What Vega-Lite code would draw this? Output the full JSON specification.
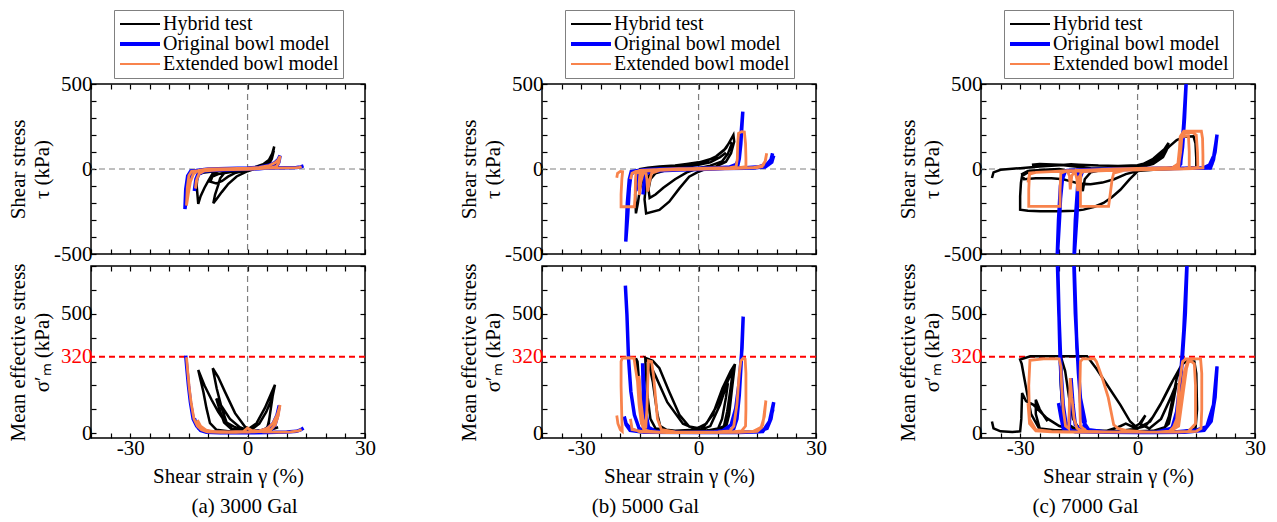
{
"$schema": "https://vega.github.io/schema/vega-lite/v6.json",
"background": "white",
"padding": {"left": 6, "top": 8, "right": 5, "bottom": 5},
"datasets": {
"a_h_t": [{"x":0,"y":0},{"x":-3,"y":-5},{"x":-6,"y":-10},{"x":-9,"y":-15},{"x":-11.5,"y":-22},{"x":-12.8,"y":-35},{"x":-13,"y":-100},{"x":-12.6,"y":-205},{"x":-12,"y":-160},{"x":-11,"y":-110},{"x":-10,"y":-68},{"x":-9,"y":-30},{"x":-7,"y":-10},{"x":-4,"y":0},{"x":0,"y":5},{"x":2,"y":12},{"x":4,"y":28},{"x":5.5,"y":55},{"x":6.3,"y":90},{"x":6.8,"y":132},{"x":6.5,"y":95},{"x":6,"y":60},{"x":5.2,"y":32},{"x":4,"y":14},{"x":2,"y":3},{"x":0,"y":-13},{"x":-2.8,"y":-44},{"x":-4.9,"y":-87},{"x":-6.6,"y":-136},{"x":-8,"y":-180},{"x":-8.75,"y":-201},{"x":-8.3,"y":-150},{"x":-7.5,"y":-95},{"x":-7,"y":-55},{"x":-6,"y":-25},{"x":-4,"y":-8},{"x":-1,"y":2},{"x":2,"y":8},{"x":4,"y":22},{"x":5.5,"y":48},{"x":6.5,"y":95},{"x":6.7,"y":108},{"x":6.2,"y":60},{"x":5.5,"y":32},{"x":4.5,"y":15},{"x":2.5,"y":4},{"x":0,"y":-6},{"x":-3,"y":-22},{"x":-5,"y":-45},{"x":-6.5,"y":-70},{"x":-8,"y":-85},{"x":-9.5,"y":-75},{"x":-9,"y":-45},{"x":-7.5,"y":-30},{"x":-5,"y":-20},{"x":-2,"y":-8},{"x":0,"y":-2},{"x":3,"y":6},{"x":5,"y":12},{"x":7,"y":22},{"x":7.8,"y":28}],
"a_o_t": [{"x":0,"y":0},{"x":-4,"y":-3},{"x":-8,"y":-6},{"x":-12,"y":-8},{"x":-14.5,"y":-12},{"x":-15.3,"y":-40},{"x":-15.8,"y":-120},{"x":-16,"y":-235},{"x":-15.5,"y":-150},{"x":-15,"y":-80},{"x":-14.3,"y":-30},{"x":-13,"y":-8},{"x":-10,"y":0},{"x":-5,"y":3},{"x":0,"y":6},{"x":3,"y":10},{"x":5.5,"y":22},{"x":7,"y":38},{"x":7.8,"y":55},{"x":8.3,"y":79},{"x":8,"y":40},{"x":7.5,"y":18},{"x":6,"y":8},{"x":3,"y":2},{"x":0,"y":-2},{"x":-4,"y":-5},{"x":-8,"y":-8},{"x":-11,"y":-12},{"x":-12.5,"y":-30},{"x":-13.3,"y":-80},{"x":-13.6,"y":-130},{"x":-13.2,"y":-60},{"x":-12.5,"y":-20},{"x":-11,"y":-5},{"x":-6,"y":0},{"x":0,"y":3},{"x":5,"y":6},{"x":10,"y":8},{"x":12.5,"y":9},{"x":13.5,"y":12},{"x":14.3,"y":18}],
"a_e_t": [{"x":0,"y":0},{"x":-4,"y":-3},{"x":-8,"y":-5},{"x":-12,"y":-8},{"x":-14.3,"y":-13},{"x":-15,"y":-40},{"x":-15.4,"y":-110},{"x":-15.6,"y":-215},{"x":-15.1,"y":-140},{"x":-14.6,"y":-75},{"x":-13.8,"y":-28},{"x":-12.5,"y":-8},{"x":-10,"y":0},{"x":-5,"y":2},{"x":0,"y":5},{"x":3,"y":9},{"x":5.5,"y":20},{"x":7,"y":36},{"x":7.8,"y":52},{"x":8.3,"y":76},{"x":8,"y":38},{"x":7.4,"y":16},{"x":6,"y":7},{"x":3,"y":2},{"x":0,"y":-2},{"x":-4,"y":-4},{"x":-8,"y":-7},{"x":-11,"y":-11},{"x":-12.4,"y":-28},{"x":-13.1,"y":-70},{"x":-13.3,"y":-115},{"x":-12.9,"y":-55},{"x":-12.2,"y":-18},{"x":-10.5,"y":-5},{"x":-6,"y":0},{"x":0,"y":2},{"x":5,"y":5},{"x":10,"y":7},{"x":12.5,"y":8},{"x":13.3,"y":10},{"x":13.8,"y":14}],
"a_h_m": [{"x":0,"y":20},{"x":-1.5,"y":14},{"x":-3.5,"y":28},{"x":-5.8,"y":49},{"x":-7.5,"y":90},{"x":-9.2,"y":140},{"x":-11,"y":200},{"x":-12.6,"y":265},{"x":-11.3,"y":174},{"x":-10.5,"y":105},{"x":-9.6,"y":42},{"x":-8,"y":15},{"x":-5,"y":8},{"x":-2,"y":8},{"x":0.2,"y":18},{"x":2.3,"y":42},{"x":4.4,"y":105},{"x":6,"y":165},{"x":7,"y":203},{"x":6.3,"y":146},{"x":5.7,"y":77},{"x":5.3,"y":28},{"x":4,"y":12},{"x":1,"y":10},{"x":-0.7,"y":28},{"x":-3.2,"y":84},{"x":-5.8,"y":174},{"x":-7.5,"y":235},{"x":-8.9,"y":272},{"x":-7.9,"y":188},{"x":-6.6,"y":105},{"x":-5.3,"y":42},{"x":-4,"y":18},{"x":-1,"y":10},{"x":1,"y":15},{"x":3,"y":40},{"x":4.8,"y":90},{"x":5.8,"y":130},{"x":6.5,"y":165},{"x":6,"y":110},{"x":5.5,"y":55},{"x":5,"y":20},{"x":3,"y":10},{"x":0,"y":12},{"x":-2,"y":25},{"x":-4.5,"y":60},{"x":-6.5,"y":110},{"x":-8,"y":145},{"x":-7,"y":90},{"x":-6,"y":45},{"x":-4,"y":15},{"x":0,"y":8},{"x":3,"y":10},{"x":6,"y":15},{"x":7.8,"y":25}],
"a_o_m": [{"x":-15.8,"y":325},{"x":-15.5,"y":270},{"x":-15.1,"y":200},{"x":-14.6,"y":130},{"x":-13.9,"y":60},{"x":-13,"y":30},{"x":-12,"y":12},{"x":-10.5,"y":4},{"x":-7,"y":2},{"x":-3,"y":2},{"x":0,"y":4},{"x":3,"y":8},{"x":5,"y":18},{"x":6.5,"y":40},{"x":7.5,"y":75},{"x":8.1,"y":116},{"x":7.6,"y":70},{"x":7,"y":35},{"x":6,"y":15},{"x":4,"y":6},{"x":0,"y":3},{"x":-4,"y":3},{"x":-8,"y":4},{"x":-11,"y":8},{"x":-12.5,"y":20},{"x":-13.3,"y":45},{"x":-13.6,"y":62},{"x":-13,"y":35},{"x":-12,"y":15},{"x":-10,"y":5},{"x":-5,"y":2},{"x":0,"y":2},{"x":5,"y":3},{"x":10,"y":5},{"x":12.5,"y":8},{"x":13.5,"y":14},{"x":14.3,"y":22}],
"a_e_m": [{"x":-15.6,"y":318},{"x":-15.3,"y":260},{"x":-14.9,"y":190},{"x":-14.4,"y":125},{"x":-13.7,"y":60},{"x":-12.8,"y":30},{"x":-11.8,"y":14},{"x":-10.3,"y":6},{"x":-7,"y":4},{"x":-3,"y":4},{"x":0,"y":6},{"x":3,"y":10},{"x":5,"y":20},{"x":6.5,"y":42},{"x":7.6,"y":78},{"x":8.3,"y":118},{"x":7.8,"y":72},{"x":7.1,"y":36},{"x":6,"y":16},{"x":4,"y":8},{"x":0,"y":5},{"x":-4,"y":5},{"x":-8,"y":6},{"x":-10.5,"y":12},{"x":-12,"y":30},{"x":-12.8,"y":55},{"x":-12.2,"y":30},{"x":-11,"y":14},{"x":-9,"y":8},{"x":-5,"y":6},{"x":-1,"y":8},{"x":0,"y":22},{"x":1,"y":12},{"x":4,"y":6},{"x":8,"y":5},{"x":11,"y":6},{"x":13,"y":10},{"x":13.8,"y":16}],
"b_h_t": [{"x":0,"y":40},{"x":-3,"y":30},{"x":-6,"y":20},{"x":-10,"y":14},{"x":-13,"y":8},{"x":-15,"y":0},{"x":-15.8,"y":-40},{"x":-16.2,"y":-150},{"x":-16,"y":-261},{"x":-15.5,"y":-200},{"x":-15,"y":-120},{"x":-14.3,"y":-60},{"x":-13.5,"y":-20},{"x":-11,"y":-2},{"x":-8,"y":8},{"x":-4,"y":22},{"x":0,"y":38},{"x":2.5,"y":52},{"x":4.5,"y":75},{"x":7,"y":122},{"x":8.9,"y":200},{"x":9.1,"y":161},{"x":8.3,"y":92},{"x":7,"y":43},{"x":4.4,"y":14},{"x":2,"y":2},{"x":0,"y":-16},{"x":-2.4,"y":-45},{"x":-4.9,"y":-114},{"x":-7.5,"y":-192},{"x":-10,"y":-241},{"x":-13.4,"y":-261},{"x":-13.8,"y":-180},{"x":-13.5,"y":-100},{"x":-13,"y":-50},{"x":-12,"y":-20},{"x":-9,"y":0},{"x":-5,"y":15},{"x":-2,"y":25},{"x":1,"y":45},{"x":4,"y":65},{"x":6.5,"y":110},{"x":8,"y":160},{"x":8.5,"y":150},{"x":7.5,"y":90},{"x":6,"y":45},{"x":3,"y":20},{"x":0,"y":5},{"x":-3,"y":-20},{"x":-6,"y":-60},{"x":-9,"y":-110},{"x":-11,"y":-150},{"x":-12.5,"y":-170},{"x":-12.8,"y":-120},{"x":-12.3,"y":-60},{"x":-11,"y":-25},{"x":-8,"y":-5},{"x":-4,"y":10},{"x":0,"y":25},{"x":3,"y":40},{"x":5.5,"y":70},{"x":7,"y":95}],
"b_o_t": [{"x":0,"y":0},{"x":-5,"y":-3},{"x":-10,"y":-5},{"x":-15,"y":-8},{"x":-17.2,"y":-15},{"x":-17.7,"y":-60},{"x":-18.2,"y":-200},{"x":-18.6,"y":-427},{"x":-18.1,"y":-271},{"x":-17.7,"y":-114},{"x":-17.3,"y":-35},{"x":-16.4,"y":-12},{"x":-14,"y":-5},{"x":-10,"y":0},{"x":-5,"y":2},{"x":0,"y":4},{"x":5,"y":8},{"x":8,"y":12},{"x":9.5,"y":25},{"x":10.1,"y":50},{"x":10.5,"y":110},{"x":10.9,"y":220},{"x":11.3,"y":337},{"x":10.8,"y":150},{"x":10.4,"y":60},{"x":10,"y":20},{"x":8,"y":5},{"x":4,"y":0},{"x":0,"y":-3},{"x":-5,"y":-6},{"x":-10,"y":-10},{"x":-13,"y":-15},{"x":-13.8,"y":-60},{"x":-14.2,"y":-150},{"x":-13.9,"y":-80},{"x":-13.4,"y":-30},{"x":-12,"y":-10},{"x":-8,"y":0},{"x":-3,"y":3},{"x":2,"y":5},{"x":8,"y":6},{"x":12,"y":7},{"x":15.5,"y":14},{"x":17.5,"y":28},{"x":18.5,"y":55},{"x":18.9,"y":92},{"x":18.5,"y":50},{"x":17.8,"y":25},{"x":16,"y":10},{"x":12,"y":5},{"x":6,"y":3},{"x":0,"y":0},{"x":-6,"y":-4},{"x":-12,"y":-7},{"x":-15,"y":-10},{"x":-15.8,"y":-50},{"x":-16,"y":-130},{"x":-15.6,"y":-60},{"x":-15,"y":-20},{"x":-13,"y":-6},{"x":-8,"y":0},{"x":0,"y":2},{"x":8,"y":4},{"x":14,"y":6},{"x":17,"y":12},{"x":18.7,"y":40},{"x":19.2,"y":80}],
"b_e_t": [{"x":-20.9,"y":-51},{"x":-20.7,"y":-25},{"x":-20,"y":-14},{"x":-19.4,"y":-16},{"x":-19.6,"y":-60},{"x":-19.8,"y":-150},{"x":-19.8,"y":-222},{"x":-18,"y":-222},{"x":-16.4,"y":-222},{"x":-16.2,"y":-150},{"x":-16.1,"y":-60},{"x":-16,"y":-25},{"x":-14,"y":-10},{"x":-10,"y":-2},{"x":-5,"y":2},{"x":0,"y":4},{"x":5,"y":6},{"x":8,"y":8},{"x":9.6,"y":14},{"x":9.9,"y":60},{"x":10,"y":150},{"x":10.2,"y":210},{"x":11,"y":220},{"x":11.7,"y":218},{"x":12,"y":150},{"x":12.1,"y":60},{"x":12.1,"y":14},{"x":10,"y":6},{"x":6,"y":2},{"x":0,"y":-1},{"x":-5,"y":-4},{"x":-10,"y":-8},{"x":-14,"y":-12},{"x":-15,"y":-30},{"x":-15.2,"y":-90},{"x":-15.1,"y":-153},{"x":-14.8,"y":-80},{"x":-14.2,"y":-30},{"x":-13.5,"y":-15},{"x":-13.2,"y":-60},{"x":-13,"y":-133},{"x":-12.5,"y":-70},{"x":-12,"y":-25},{"x":-10,"y":-8},{"x":-6,"y":0},{"x":0,"y":3},{"x":6,"y":5},{"x":12,"y":7},{"x":15,"y":10},{"x":16.5,"y":22},{"x":17.1,"y":50},{"x":17.4,"y":92},{"x":17,"y":45},{"x":16.2,"y":18},{"x":14,"y":8},{"x":9,"y":3},{"x":3,"y":0},{"x":-4,"y":-3},{"x":-10,"y":-6},{"x":-14.5,"y":-10},{"x":-16,"y":-14},{"x":-17,"y":-25},{"x":-17.4,"y":-60},{"x":-17,"y":-25},{"x":-15,"y":-8},{"x":-10,"y":-2},{"x":0,"y":2},{"x":10,"y":5},{"x":15,"y":8},{"x":16.5,"y":15}],
"b_h_m": [{"x":0,"y":21},{"x":-2.4,"y":28},{"x":-4.9,"y":77},{"x":-7.5,"y":174},{"x":-10,"y":272},{"x":-11.7,"y":303},{"x":-13.4,"y":314},{"x":-12.8,"y":300},{"x":-11.7,"y":216},{"x":-10.5,"y":77},{"x":-9.8,"y":30},{"x":-8,"y":12},{"x":-4,"y":8},{"x":0,"y":10},{"x":1,"y":21},{"x":3.6,"y":77},{"x":6.1,"y":188},{"x":8.2,"y":260},{"x":9.3,"y":289},{"x":9,"y":250},{"x":8.5,"y":180},{"x":7.8,"y":77},{"x":7,"y":25},{"x":5,"y":10},{"x":0,"y":8},{"x":-5,"y":8},{"x":-10,"y":10},{"x":-13,"y":20},{"x":-14.5,"y":80},{"x":-15.3,"y":200},{"x":-15.8,"y":290},{"x":-16,"y":314},{"x":-15.6,"y":300},{"x":-15.2,"y":216},{"x":-14.6,"y":100},{"x":-14.2,"y":40},{"x":-13.5,"y":15},{"x":-10,"y":10},{"x":0,"y":10},{"x":3,"y":30},{"x":5.5,"y":120},{"x":7.5,"y":220},{"x":8.8,"y":270},{"x":8.2,"y":190},{"x":7.3,"y":90},{"x":6.5,"y":30},{"x":4,"y":10},{"x":0,"y":12},{"x":-4,"y":40},{"x":-8,"y":130},{"x":-11,"y":240},{"x":-12.8,"y":300},{"x":-13.6,"y":310},{"x":-13.5,"y":250},{"x":-13,"y":150},{"x":-12.3,"y":60},{"x":-11,"y":20},{"x":-6,"y":10},{"x":-1,"y":15},{"x":2,"y":40},{"x":4.5,"y":110},{"x":6.5,"y":180},{"x":7.5,"y":210},{"x":7,"y":150},{"x":6,"y":60},{"x":5,"y":20},{"x":2,"y":10},{"x":0,"y":18}],
"b_o_m": [{"x":-18.7,"y":618},{"x":-18.3,"y":496},{"x":-17.9,"y":314},{"x":-17.3,"y":175},{"x":-16.4,"y":77},{"x":-15.2,"y":21},{"x":-13.5,"y":7},{"x":-10,"y":3},{"x":-5,"y":3},{"x":0,"y":4},{"x":4,"y":6},{"x":6.1,"y":10},{"x":8.3,"y":35},{"x":9.5,"y":105},{"x":10.4,"y":216},{"x":11.1,"y":356},{"x":11.4,"y":488},{"x":10.9,"y":300},{"x":10.4,"y":160},{"x":9.8,"y":60},{"x":9,"y":20},{"x":7,"y":6},{"x":3,"y":3},{"x":-2,"y":3},{"x":-7,"y":4},{"x":-11,"y":6},{"x":-13,"y":15},{"x":-13.8,"y":60},{"x":-14.1,"y":150},{"x":-14.3,"y":293},{"x":-13.9,"y":180},{"x":-13.4,"y":80},{"x":-12.8,"y":25},{"x":-11,"y":8},{"x":-5,"y":3},{"x":0,"y":3},{"x":6,"y":3},{"x":12,"y":4},{"x":16.4,"y":7},{"x":18.1,"y":49},{"x":19.2,"y":130},{"x":18.5,"y":60},{"x":17.5,"y":20},{"x":15,"y":6},{"x":8,"y":3},{"x":0,"y":3},{"x":-8,"y":4},{"x":-14,"y":6},{"x":-17,"y":12},{"x":-18.5,"y":40},{"x":-19,"y":70},{"x":-18.5,"y":35},{"x":-17.5,"y":12},{"x":-14,"y":4},{"x":0,"y":3},{"x":10,"y":3},{"x":16,"y":6},{"x":18,"y":40},{"x":19,"y":100}],
"b_e_m": [{"x":-20.9,"y":74},{"x":-20.6,"y":40},{"x":-20,"y":15},{"x":-19.5,"y":8},{"x":-19.6,"y":60},{"x":-19.8,"y":200},{"x":-19.8,"y":300},{"x":-19.5,"y":314},{"x":-18,"y":316},{"x":-16.5,"y":314},{"x":-16.2,"y":280},{"x":-15.6,"y":216},{"x":-15.2,"y":120},{"x":-14.7,"y":49},{"x":-14,"y":15},{"x":-12,"y":6},{"x":-8,"y":4},{"x":-3,"y":4},{"x":0,"y":5},{"x":5,"y":6},{"x":8,"y":10},{"x":9,"y":30},{"x":9.8,"y":120},{"x":10.4,"y":250},{"x":10.8,"y":303},{"x":11.4,"y":314},{"x":11.9,"y":310},{"x":12.1,"y":250},{"x":12.1,"y":100},{"x":12,"y":30},{"x":11,"y":10},{"x":8,"y":5},{"x":2,"y":4},{"x":-4,"y":4},{"x":-10,"y":5},{"x":-13.5,"y":10},{"x":-14.6,"y":40},{"x":-15,"y":150},{"x":-15.2,"y":240},{"x":-14.8,"y":140},{"x":-14.2,"y":60},{"x":-13.5,"y":20},{"x":-13.2,"y":100},{"x":-12.8,"y":303},{"x":-12,"y":300},{"x":-11.5,"y":240},{"x":-11,"y":150},{"x":-10.5,"y":60},{"x":-9.5,"y":15},{"x":-6,"y":6},{"x":0,"y":4},{"x":6,"y":4},{"x":12,"y":6},{"x":15,"y":10},{"x":16.4,"y":35},{"x":17.2,"y":137},{"x":16.8,"y":70},{"x":16,"y":25},{"x":14,"y":8},{"x":8,"y":4},{"x":0,"y":3},{"x":-8,"y":4},{"x":-14,"y":6},{"x":-17,"y":15},{"x":-17.4,"y":60},{"x":-17,"y":20},{"x":-15,"y":6},{"x":-8,"y":3},{"x":0,"y":3},{"x":10,"y":4},{"x":15,"y":8},{"x":16.5,"y":30}],
"c_h_t": [{"x":-37.2,"y":-53},{"x":-36.8,"y":-20},{"x":-35,"y":-5},{"x":-30,"y":5},{"x":-25,"y":15},{"x":-20,"y":22},{"x":-17,"y":28},{"x":-15,"y":25},{"x":-10,"y":20},{"x":-5,"y":18},{"x":0,"y":22},{"x":3,"y":40},{"x":5.5,"y":70},{"x":7.9,"y":153},{"x":7.4,"y":110},{"x":6.5,"y":70},{"x":4,"y":30},{"x":0,"y":5},{"x":-5,"y":-5},{"x":-10,"y":-8},{"x":-15,"y":-10},{"x":-20,"y":-12},{"x":-25,"y":-15},{"x":-28,"y":-20},{"x":-29.5,"y":-40},{"x":-29.8,"y":-82},{"x":-30,"y":-160},{"x":-30,"y":-239},{"x":-28,"y":-245},{"x":-24.9,"y":-249},{"x":-20,"y":-249},{"x":-16,"y":-245},{"x":-13.8,"y":-239},{"x":-11,"y":-222},{"x":-8.7,"y":-200},{"x":-6.5,"y":-165},{"x":-4.4,"y":-122},{"x":-2,"y":-60},{"x":0,"y":-14},{"x":2,"y":15},{"x":4,"y":40},{"x":6,"y":80},{"x":8,"y":130},{"x":10,"y":170},{"x":12,"y":190},{"x":14.3,"y":192},{"x":14.8,"y":150},{"x":15,"y":60},{"x":15,"y":10},{"x":12,"y":5},{"x":8,"y":0},{"x":4,"y":-5},{"x":0,"y":-12},{"x":-3,"y":-30},{"x":-6,"y":-60},{"x":-9,"y":-80},{"x":-12,"y":-90},{"x":-15,"y":-85},{"x":-17.5,"y":-70},{"x":-19,"y":-60},{"x":-22,"y":-55},{"x":-26,"y":-55},{"x":-29,"y":-60},{"x":-29.5,"y":-30},{"x":-28,"y":-12},{"x":-24,"y":-5},{"x":-20,"y":0},{"x":-16,"y":-20},{"x":-14.5,"y":-80},{"x":-14,"y":-130},{"x":-13.5,"y":-60},{"x":-12,"y":-20},{"x":-8,"y":0},{"x":-3,"y":10},{"x":1,"y":25},{"x":4,"y":60},{"x":6,"y":100},{"x":7,"y":120},{"x":6,"y":70},{"x":4,"y":35},{"x":0,"y":10},{"x":-5,"y":0},{"x":-12,"y":5},{"x":-20,"y":25},{"x":-25,"y":30},{"x":-27,"y":25}],
"c_o_t": [{"x":0,"y":0},{"x":-5,"y":-4},{"x":-10,"y":-7},{"x":-15,"y":-10},{"x":-18,"y":-12},{"x":-19,"y":-20},{"x":-19.5,"y":-82},{"x":-19.9,"y":-278},{"x":-20.6,"y":-560},{"x":-20.2,"y":-300},{"x":-19.7,"y":-100},{"x":-19.2,"y":-25},{"x":-18,"y":-8},{"x":-14,"y":-5},{"x":-10,"y":-2},{"x":-5,"y":0},{"x":0,"y":2},{"x":5,"y":4},{"x":9,"y":6},{"x":10.5,"y":20},{"x":11.3,"y":114},{"x":11.8,"y":270},{"x":12.4,"y":506},{"x":12.6,"y":600},{"x":12,"y":300},{"x":11.5,"y":130},{"x":11,"y":40},{"x":10,"y":10},{"x":6,"y":2},{"x":0,"y":-2},{"x":-6,"y":-5},{"x":-12,"y":-8},{"x":-14.5,"y":-14},{"x":-15.1,"y":-82},{"x":-15.5,"y":-278},{"x":-16.3,"y":-560},{"x":-15.9,"y":-300},{"x":-15.3,"y":-100},{"x":-14.6,"y":-14},{"x":-12,"y":-5},{"x":-5,"y":0},{"x":0,"y":2},{"x":8,"y":4},{"x":15,"y":5},{"x":18.6,"y":6},{"x":19.4,"y":55},{"x":20.3,"y":202},{"x":19.8,"y":100},{"x":19,"y":30},{"x":17,"y":8},{"x":12,"y":4},{"x":6,"y":2},{"x":0,"y":0},{"x":-8,"y":-5},{"x":-15,"y":-8},{"x":-18.5,"y":-12},{"x":-19.3,"y":-60},{"x":-19.8,"y":-200},{"x":-19.2,"y":-60},{"x":-18.5,"y":-15},{"x":-16,"y":-8},{"x":-15,"y":-50},{"x":-15.3,"y":-200},{"x":-14.8,"y":-60},{"x":-14,"y":-10},{"x":-8,"y":0},{"x":0,"y":2},{"x":10,"y":4},{"x":11,"y":60},{"x":11.6,"y":220},{"x":11,"y":30},{"x":10,"y":5},{"x":18,"y":5},{"x":19.5,"y":80},{"x":20.2,"y":180}],
"c_e_t": [{"x":-28,"y":-80},{"x":-27.6,"y":-30},{"x":-26,"y":-20},{"x":-22,"y":-15},{"x":-18,"y":-10},{"x":-12,"y":-5},{"x":-6,"y":0},{"x":0,"y":3},{"x":5,"y":6},{"x":9,"y":10},{"x":10.3,"y":30},{"x":10.7,"y":120},{"x":10.9,"y":192},{"x":11.8,"y":222},{"x":14,"y":222},{"x":16.3,"y":222},{"x":16.6,"y":180},{"x":16.7,"y":80},{"x":16.7,"y":6},{"x":14,"y":2},{"x":10,"y":0},{"x":4,"y":-3},{"x":-2,"y":-6},{"x":-8,"y":-10},{"x":-14,"y":-15},{"x":-14.5,"y":-24},{"x":-14.6,"y":-120},{"x":-14.6,"y":-220},{"x":-11,"y":-220},{"x":-7.4,"y":-220},{"x":-7,"y":-150},{"x":-6.5,"y":-60},{"x":-6.1,"y":-24},{"x":-3,"y":-5},{"x":0,"y":0},{"x":5,"y":3},{"x":9,"y":6},{"x":10.5,"y":20},{"x":11,"y":100},{"x":11.3,"y":180},{"x":12,"y":210},{"x":14,"y":215},{"x":15,"y":200},{"x":15.3,"y":100},{"x":15.4,"y":10},{"x":12,"y":3},{"x":6,"y":0},{"x":0,"y":-3},{"x":-8,"y":-8},{"x":-16,"y":-12},{"x":-22,"y":-15},{"x":-26,"y":-20},{"x":-27.6,"y":-24},{"x":-27.8,"y":-120},{"x":-27.8,"y":-220},{"x":-24,"y":-220},{"x":-19.8,"y":-220},{"x":-19.8,"y":-120},{"x":-19.6,"y":-24},{"x":-18,"y":-10},{"x":-17.4,"y":-40},{"x":-17.2,"y":-120},{"x":-16.8,"y":-40},{"x":-16,"y":-14},{"x":-15.5,"y":-60},{"x":-15.3,"y":-130},{"x":-15,"y":-50},{"x":-14,"y":-10},{"x":-8,"y":-2},{"x":0,"y":2},{"x":8,"y":5},{"x":10.5,"y":10},{"x":10.8,"y":80},{"x":11,"y":160},{"x":11.5,"y":190},{"x":13,"y":195},{"x":13.2,"y":100},{"x":13.2,"y":5}],
"c_h_m": [{"x":-37.2,"y":49},{"x":-36.8,"y":20},{"x":-35,"y":8},{"x":-32,"y":5},{"x":-30,"y":8},{"x":-29.7,"y":60},{"x":-29.5,"y":168},{"x":-28.5,"y":135},{"x":-26.6,"y":119},{"x":-23.2,"y":63},{"x":-20,"y":30},{"x":-16,"y":15},{"x":-12,"y":10},{"x":-8,"y":8},{"x":-4,"y":10},{"x":0,"y":20},{"x":3.2,"y":49},{"x":5.8,"y":119},{"x":8.4,"y":203},{"x":11.3,"y":287},{"x":10,"y":230},{"x":9,"y":150},{"x":8,"y":70},{"x":7,"y":25},{"x":4,"y":10},{"x":0,"y":8},{"x":-5,"y":8},{"x":-12,"y":10},{"x":-20,"y":12},{"x":-25,"y":15},{"x":-27.2,"y":80},{"x":-28.6,"y":200},{"x":-29.6,"y":290},{"x":-30,"y":308},{"x":-27.4,"y":322},{"x":-22,"y":322},{"x":-17,"y":322},{"x":-12.9,"y":322},{"x":-10.5,"y":270},{"x":-7.8,"y":203},{"x":-4.4,"y":119},{"x":-1.9,"y":49},{"x":0,"y":21},{"x":2,"y":30},{"x":4,"y":70},{"x":6.5,"y":140},{"x":9,"y":220},{"x":10.5,"y":260},{"x":11.5,"y":290},{"x":12.5,"y":300},{"x":14.5,"y":300},{"x":15,"y":250},{"x":15.2,"y":100},{"x":14.8,"y":20},{"x":12,"y":8},{"x":6,"y":5},{"x":0,"y":5},{"x":-6,"y":8},{"x":-12,"y":12},{"x":-16,"y":20},{"x":-19,"y":50},{"x":-19.6,"y":200},{"x":-19.8,"y":300},{"x":-19.5,"y":315},{"x":-18.5,"y":260},{"x":-17.5,"y":150},{"x":-16.5,"y":60},{"x":-15,"y":20},{"x":-12,"y":10},{"x":-8,"y":10},{"x":-5,"y":25},{"x":-3,"y":40},{"x":-1,"y":25},{"x":1,"y":45},{"x":2,"y":75},{"x":0.5,"y":40},{"x":3,"y":20},{"x":6,"y":60},{"x":8.5,"y":150},{"x":10,"y":210},{"x":9,"y":120},{"x":8,"y":40},{"x":6,"y":10},{"x":0,"y":6},{"x":-10,"y":8},{"x":-20,"y":10},{"x":-25,"y":20},{"x":-26,"y":80},{"x":-26,"y":140},{"x":-25,"y":100},{"x":-23,"y":50}],
"c_o_m": [{"x":0,"y":3},{"x":-8,"y":4},{"x":-15,"y":6},{"x":-18,"y":10},{"x":-18.5,"y":35},{"x":-19.3,"y":147},{"x":-19.8,"y":315},{"x":-20.4,"y":707},{"x":-20.6,"y":780},{"x":-20.1,"y":500},{"x":-19.5,"y":250},{"x":-19,"y":120},{"x":-18.3,"y":40},{"x":-17,"y":12},{"x":-15,"y":6},{"x":-14,"y":10},{"x":-13.4,"y":49},{"x":-14.6,"y":147},{"x":-15.5,"y":357},{"x":-16.2,"y":707},{"x":-16.4,"y":780},{"x":-15.9,"y":500},{"x":-15.1,"y":250},{"x":-14.5,"y":120},{"x":-13.9,"y":50},{"x":-12.5,"y":15},{"x":-8,"y":5},{"x":0,"y":3},{"x":5,"y":5},{"x":8.8,"y":21},{"x":10,"y":91},{"x":10.9,"y":217},{"x":11.8,"y":427},{"x":12.6,"y":707},{"x":12.8,"y":780},{"x":12.2,"y":500},{"x":11.4,"y":300},{"x":10.6,"y":150},{"x":9.8,"y":60},{"x":8.5,"y":15},{"x":6,"y":5},{"x":0,"y":3},{"x":8,"y":3},{"x":15.2,"y":14},{"x":17.7,"y":28},{"x":19.4,"y":119},{"x":20.3,"y":280},{"x":19.8,"y":150},{"x":18.8,"y":50},{"x":17,"y":12},{"x":12,"y":4},{"x":4,"y":3},{"x":-8,"y":4},{"x":-16,"y":6},{"x":-19,"y":20},{"x":-20.2,"y":126},{"x":-19.5,"y":60},{"x":-18.8,"y":15},{"x":-17.5,"y":10},{"x":-17.2,"y":120},{"x":-17,"y":231},{"x":-16.5,"y":120},{"x":-15.9,"y":35},{"x":-14,"y":8},{"x":-8,"y":4},{"x":0,"y":3}],
"c_e_m": [{"x":-28,"y":126},{"x":-27.6,"y":40},{"x":-26,"y":10},{"x":-22,"y":6},{"x":-18,"y":5},{"x":-12,"y":5},{"x":-6,"y":5},{"x":0,"y":5},{"x":5,"y":5},{"x":8.8,"y":10},{"x":10,"y":60},{"x":10.6,"y":200},{"x":11.5,"y":300},{"x":12.3,"y":311},{"x":16.1,"y":311},{"x":16.4,"y":250},{"x":16.4,"y":100},{"x":16.2,"y":20},{"x":15,"y":8},{"x":10,"y":5},{"x":4,"y":5},{"x":-2,"y":5},{"x":-8,"y":6},{"x":-13,"y":8},{"x":-14.6,"y":30},{"x":-14.8,"y":150},{"x":-14.6,"y":300},{"x":-14,"y":311},{"x":-11,"y":311},{"x":-10.5,"y":300},{"x":-9,"y":230},{"x":-7.5,"y":150},{"x":-6.1,"y":35},{"x":-5,"y":20},{"x":-3,"y":12},{"x":0,"y":8},{"x":3,"y":5},{"x":8,"y":6},{"x":10,"y":40},{"x":11,"y":150},{"x":12,"y":260},{"x":12.8,"y":300},{"x":13.5,"y":305},{"x":14.5,"y":290},{"x":14.8,"y":200},{"x":14.8,"y":40},{"x":13,"y":8},{"x":6,"y":5},{"x":0,"y":5},{"x":-8,"y":5},{"x":-16,"y":6},{"x":-22,"y":8},{"x":-26,"y":15},{"x":-27.6,"y":60},{"x":-27.8,"y":200},{"x":-27.5,"y":305},{"x":-24,"y":311},{"x":-20,"y":311},{"x":-19.6,"y":280},{"x":-19.4,"y":200},{"x":-19,"y":100},{"x":-18.4,"y":30},{"x":-17.6,"y":20},{"x":-17.2,"y":231},{"x":-16.8,"y":150},{"x":-16.2,"y":60},{"x":-15.5,"y":21},{"x":-14,"y":8},{"x":-8,"y":5},{"x":0,"y":5},{"x":8,"y":6},{"x":10.5,"y":30},{"x":11.5,"y":150},{"x":12.5,"y":270},{"x":13,"y":300},{"x":14,"y":300}]
},
"hconcat": [
{
"vconcat": [
{"width": 274, "height": 170, "resolve": {"axis": {"x": "independent", "y": "independent"}},
"layer": [
{"data": {"values": [{}]}, "mark": {"type": "rule", "color": "#808080", "strokeDash": [6, 4], "strokeWidth": 1.2}, "encoding": {"y": {"datum": 0, "type": "quantitative", "scale": {"domain": [-500, 500], "nice": false, "zero": false}, "axis": {"orient": "right", "values": [-500,-400,-300,-200,-100,0,100,200,300,400,500], "labels": false, "title": null, "minExtent": 0}}}},
{"data": {"values": [{}]}, "mark": {"type": "rule", "color": "#808080", "strokeDash": [6, 4], "strokeWidth": 1.2}, "encoding": {"x": {"datum": 0, "type": "quantitative", "scale": {"domain": [-40, 30], "nice": false, "zero": false}, "axis": {"orient": "top", "values": [-40,-35,-30,-25,-20,-15,-10,-5,0,5,10,15,20,25,30], "labels": false, "title": null}}}},
{"data": {"name": "a_h_t"}, "mark": {"type": "line", "clip": true, "strokeWidth": 2.5}, "encoding": {"x": {"field": "x", "type": "quantitative", "axis": {"orient": "bottom", "values": [-40,-35,-30,-25,-20,-15,-10,-5,0,5,10,15,20,25,30], "labels": false, "title": null}}, "y": {"field": "y", "type": "quantitative", "axis": {"orient": "left", "values": [-500,-400,-300,-200,-100,0,100,200,300,400,500], "labelExpr": "datum.value % 500 == 0 ? '' + datum.value : ''", "title": ["Shear stress", "τ (kPa)"], "titlePadding": 1}}, "color": {"datum": "Hybrid test", "type": "nominal", "scale": {"domain": ["Hybrid test", "Original bowl model", "Extended bowl model"], "range": ["#000000", "#0000FF", "#F8834C"]}, "legend": {"title": null, "orient": "none", "legendX": 23, "legendY": -74, "encode": {"symbols": {"update": {"strokeWidth": {"signal": "datum.value === 'Original bowl model' ? 4 : 2"}}}}}}, "order": {"value": null}}},
{"data": {"name": "a_o_t"}, "mark": {"type": "line", "clip": true, "strokeWidth": 3.5}, "encoding": {"x": {"field": "x", "type": "quantitative", "axis": null}, "y": {"field": "y", "type": "quantitative", "axis": null}, "color": {"datum": "Original bowl model", "type": "nominal"}, "order": {"value": null}}},
{"data": {"name": "a_e_t"}, "mark": {"type": "line", "clip": true, "strokeWidth": 2.8}, "encoding": {"x": {"field": "x", "type": "quantitative", "axis": null}, "y": {"field": "y", "type": "quantitative", "axis": null}, "color": {"datum": "Extended bowl model", "type": "nominal"}, "order": {"value": null}}}
]},
{"width": 274, "height": 172, "resolve": {"axis": {"x": "independent", "y": "independent"}},
"layer": [
{"data": {"values": [{}]}, "mark": {"type": "rule", "color": "#808080", "strokeDash": [6, 4], "strokeWidth": 1.2}, "encoding": {"x": {"datum": 0, "type": "quantitative", "scale": {"domain": [-40, 30], "nice": false, "zero": false}, "axis": {"orient": "top", "values": [-40,-35,-30,-25,-20,-15,-10,-5,0,5,10,15,20,25,30], "labels": false, "title": null}}}},
{"data": {"values": [{}]}, "mark": {"type": "rule", "color": "#FF0000", "strokeDash": [6, 4], "strokeWidth": 2}, "encoding": {"y": {"datum": 320, "type": "quantitative", "scale": {"domain": [-20, 700], "nice": false, "zero": false}, "axis": {"orient": "right", "values": [0,100,200,300,400,500,600,700], "labels": false, "title": null, "minExtent": 0}}}},
{"data": {"name": "a_h_m"}, "mark": {"type": "line", "clip": true, "strokeWidth": 2.5, "color": "#000000"}, "encoding": {"x": {"field": "x", "type": "quantitative", "axis": {"orient": "bottom", "values": [-40,-35,-30,-25,-20,-15,-10,-5,0,5,10,15,20,25,30], "labelExpr": "datum.value % 30 == 0 ? '' + datum.value : ''", "title": "Shear strain γ (%)", "titlePadding": 7}}, "y": {"field": "y", "type": "quantitative", "axis": {"orient": "left", "values": [0,100,200,300,320,400,500,600,700], "labelExpr": "datum.value == 0 || datum.value == 320 || datum.value == 500 ? '' + datum.value : ''", "labelColor": {"condition": {"test": "datum.value == 320", "value": "#FF0000"}, "value": "#000000"}, "tickOpacity": {"condition": {"test": "datum.value == 320", "value": 0}, "value": 1}, "title": ["Mean effective stress", "σ′ₘ (kPa)"], "titlePadding": 8}}, "order": {"value": null}}},
{"data": {"name": "a_o_m"}, "mark": {"type": "line", "clip": true, "strokeWidth": 3.5, "color": "#0000FF"}, "encoding": {"x": {"field": "x", "type": "quantitative", "axis": null}, "y": {"field": "y", "type": "quantitative", "axis": null}, "order": {"value": null}}},
{"data": {"name": "a_e_m"}, "mark": {"type": "line", "clip": true, "strokeWidth": 2.8, "color": "#F8834C"}, "encoding": {"x": {"field": "x", "type": "quantitative", "axis": null}, "y": {"field": "y", "type": "quantitative", "axis": null}, "order": {"value": null}}}
]}
],
"spacing": 12,
"bounds": "flush",
"resolve": {"scale": {"color": "independent"}, "legend": {"color": "independent"}},
"title": {"text": "(a) 3000 Gal", "orient": "bottom", "anchor": "middle", "dx": 53, "offset": 9}
},
{
"hconcat": [
{
"vconcat": [
{"width": 274, "height": 170, "resolve": {"axis": {"x": "independent", "y": "independent"}},
"layer": [
{"data": {"values": [{}]}, "mark": {"type": "rule", "color": "#808080", "strokeDash": [6, 4], "strokeWidth": 1.2}, "encoding": {"y": {"datum": 0, "type": "quantitative", "scale": {"domain": [-500, 500], "nice": false, "zero": false}, "axis": {"orient": "right", "values": [-500,-400,-300,-200,-100,0,100,200,300,400,500], "labels": false, "title": null, "minExtent": 0}}}},
{"data": {"values": [{}]}, "mark": {"type": "rule", "color": "#808080", "strokeDash": [6, 4], "strokeWidth": 1.2}, "encoding": {"x": {"datum": 0, "type": "quantitative", "scale": {"domain": [-40, 30], "nice": false, "zero": false}, "axis": {"orient": "top", "values": [-40,-35,-30,-25,-20,-15,-10,-5,0,5,10,15,20,25,30], "labels": false, "title": null}}}},
{"data": {"name": "b_h_t"}, "mark": {"type": "line", "clip": true, "strokeWidth": 2.5}, "encoding": {"x": {"field": "x", "type": "quantitative", "axis": {"orient": "bottom", "values": [-40,-35,-30,-25,-20,-15,-10,-5,0,5,10,15,20,25,30], "labels": false, "title": null}}, "y": {"field": "y", "type": "quantitative", "axis": {"orient": "left", "values": [-500,-400,-300,-200,-100,0,100,200,300,400,500], "labelExpr": "datum.value % 500 == 0 ? '' + datum.value : ''", "title": ["Shear stress", "τ (kPa)"], "titlePadding": 1}}, "color": {"datum": "Hybrid test", "type": "nominal", "scale": {"domain": ["Hybrid test", "Original bowl model", "Extended bowl model"], "range": ["#000000", "#0000FF", "#F8834C"]}, "legend": {"title": null, "orient": "none", "legendX": 23, "legendY": -74, "encode": {"symbols": {"update": {"strokeWidth": {"signal": "datum.value === 'Original bowl model' ? 4 : 2"}}}}}}, "order": {"value": null}}},
{"data": {"name": "b_o_t"}, "mark": {"type": "line", "clip": true, "strokeWidth": 3.5}, "encoding": {"x": {"field": "x", "type": "quantitative", "axis": null}, "y": {"field": "y", "type": "quantitative", "axis": null}, "color": {"datum": "Original bowl model", "type": "nominal"}, "order": {"value": null}}},
{"data": {"name": "b_e_t"}, "mark": {"type": "line", "clip": true, "strokeWidth": 2.8}, "encoding": {"x": {"field": "x", "type": "quantitative", "axis": null}, "y": {"field": "y", "type": "quantitative", "axis": null}, "color": {"datum": "Extended bowl model", "type": "nominal"}, "order": {"value": null}}}
]},
{"width": 274, "height": 172, "resolve": {"axis": {"x": "independent", "y": "independent"}},
"layer": [
{"data": {"values": [{}]}, "mark": {"type": "rule", "color": "#808080", "strokeDash": [6, 4], "strokeWidth": 1.2}, "encoding": {"x": {"datum": 0, "type": "quantitative", "scale": {"domain": [-40, 30], "nice": false, "zero": false}, "axis": {"orient": "top", "values": [-40,-35,-30,-25,-20,-15,-10,-5,0,5,10,15,20,25,30], "labels": false, "title": null}}}},
{"data": {"values": [{}]}, "mark": {"type": "rule", "color": "#FF0000", "strokeDash": [6, 4], "strokeWidth": 2}, "encoding": {"y": {"datum": 320, "type": "quantitative", "scale": {"domain": [-20, 700], "nice": false, "zero": false}, "axis": {"orient": "right", "values": [0,100,200,300,400,500,600,700], "labels": false, "title": null, "minExtent": 0}}}},
{"data": {"name": "b_h_m"}, "mark": {"type": "line", "clip": true, "strokeWidth": 2.5, "color": "#000000"}, "encoding": {"x": {"field": "x", "type": "quantitative", "axis": {"orient": "bottom", "values": [-40,-35,-30,-25,-20,-15,-10,-5,0,5,10,15,20,25,30], "labelExpr": "datum.value % 30 == 0 ? '' + datum.value : ''", "title": "Shear strain γ (%)", "titlePadding": 7}}, "y": {"field": "y", "type": "quantitative", "axis": {"orient": "left", "values": [0,100,200,300,320,400,500,600,700], "labelExpr": "datum.value == 0 || datum.value == 320 || datum.value == 500 ? '' + datum.value : ''", "labelColor": {"condition": {"test": "datum.value == 320", "value": "#FF0000"}, "value": "#000000"}, "tickOpacity": {"condition": {"test": "datum.value == 320", "value": 0}, "value": 1}, "title": ["Mean effective stress", "σ′ₘ (kPa)"], "titlePadding": 8}}, "order": {"value": null}}},
{"data": {"name": "b_o_m"}, "mark": {"type": "line", "clip": true, "strokeWidth": 3.5, "color": "#0000FF"}, "encoding": {"x": {"field": "x", "type": "quantitative", "axis": null}, "y": {"field": "y", "type": "quantitative", "axis": null}, "order": {"value": null}}},
{"data": {"name": "b_e_m"}, "mark": {"type": "line", "clip": true, "strokeWidth": 2.8, "color": "#F8834C"}, "encoding": {"x": {"field": "x", "type": "quantitative", "axis": null}, "y": {"field": "y", "type": "quantitative", "axis": null}, "order": {"value": null}}}
]}
],
"spacing": 12,
"bounds": "flush",
"resolve": {"scale": {"color": "independent"}, "legend": {"color": "independent"}},
"title": {"text": "(b) 5000 Gal", "orient": "bottom", "anchor": "middle", "dx": 3, "offset": 9}
},
{
"vconcat": [
{"width": 274, "height": 170, "resolve": {"axis": {"x": "independent", "y": "independent"}},
"layer": [
{"data": {"values": [{}]}, "mark": {"type": "rule", "color": "#808080", "strokeDash": [6, 4], "strokeWidth": 1.2}, "encoding": {"y": {"datum": 0, "type": "quantitative", "scale": {"domain": [-500, 500], "nice": false, "zero": false}, "axis": {"orient": "right", "values": [-500,-400,-300,-200,-100,0,100,200,300,400,500], "labels": false, "title": null, "minExtent": 0}}}},
{"data": {"values": [{}]}, "mark": {"type": "rule", "color": "#808080", "strokeDash": [6, 4], "strokeWidth": 1.2}, "encoding": {"x": {"datum": 0, "type": "quantitative", "scale": {"domain": [-40, 30], "nice": false, "zero": false}, "axis": {"orient": "top", "values": [-40,-35,-30,-25,-20,-15,-10,-5,0,5,10,15,20,25,30], "labels": false, "title": null}}}},
{"data": {"name": "c_h_t"}, "mark": {"type": "line", "clip": true, "strokeWidth": 2.5}, "encoding": {"x": {"field": "x", "type": "quantitative", "axis": {"orient": "bottom", "values": [-40,-35,-30,-25,-20,-15,-10,-5,0,5,10,15,20,25,30], "labels": false, "title": null}}, "y": {"field": "y", "type": "quantitative", "axis": {"orient": "left", "values": [-500,-400,-300,-200,-100,0,100,200,300,400,500], "labelExpr": "datum.value % 500 == 0 ? '' + datum.value : ''", "title": ["Shear stress", "τ (kPa)"], "titlePadding": 1}}, "color": {"datum": "Hybrid test", "type": "nominal", "scale": {"domain": ["Hybrid test", "Original bowl model", "Extended bowl model"], "range": ["#000000", "#0000FF", "#F8834C"]}, "legend": {"title": null, "orient": "none", "legendX": 23, "legendY": -74, "encode": {"symbols": {"update": {"strokeWidth": {"signal": "datum.value === 'Original bowl model' ? 4 : 2"}}}}}}, "order": {"value": null}}},
{"data": {"name": "c_o_t"}, "mark": {"type": "line", "clip": true, "strokeWidth": 3.5}, "encoding": {"x": {"field": "x", "type": "quantitative", "axis": null}, "y": {"field": "y", "type": "quantitative", "axis": null}, "color": {"datum": "Original bowl model", "type": "nominal"}, "order": {"value": null}}},
{"data": {"name": "c_e_t"}, "mark": {"type": "line", "clip": true, "strokeWidth": 2.8}, "encoding": {"x": {"field": "x", "type": "quantitative", "axis": null}, "y": {"field": "y", "type": "quantitative", "axis": null}, "color": {"datum": "Extended bowl model", "type": "nominal"}, "order": {"value": null}}}
]},
{"width": 274, "height": 172, "resolve": {"axis": {"x": "independent", "y": "independent"}},
"layer": [
{"data": {"values": [{}]}, "mark": {"type": "rule", "color": "#808080", "strokeDash": [6, 4], "strokeWidth": 1.2}, "encoding": {"x": {"datum": 0, "type": "quantitative", "scale": {"domain": [-40, 30], "nice": false, "zero": false}, "axis": {"orient": "top", "values": [-40,-35,-30,-25,-20,-15,-10,-5,0,5,10,15,20,25,30], "labels": false, "title": null}}}},
{"data": {"values": [{}]}, "mark": {"type": "rule", "color": "#FF0000", "strokeDash": [6, 4], "strokeWidth": 2}, "encoding": {"y": {"datum": 320, "type": "quantitative", "scale": {"domain": [-20, 700], "nice": false, "zero": false}, "axis": {"orient": "right", "values": [0,100,200,300,400,500,600,700], "labels": false, "title": null, "minExtent": 0}}}},
{"data": {"name": "c_h_m"}, "mark": {"type": "line", "clip": true, "strokeWidth": 2.5, "color": "#000000"}, "encoding": {"x": {"field": "x", "type": "quantitative", "axis": {"orient": "bottom", "values": [-40,-35,-30,-25,-20,-15,-10,-5,0,5,10,15,20,25,30], "labelExpr": "datum.value % 30 == 0 ? '' + datum.value : ''", "title": "Shear strain γ (%)", "titlePadding": 7}}, "y": {"field": "y", "type": "quantitative", "axis": {"orient": "left", "values": [0,100,200,300,320,400,500,600,700], "labelExpr": "datum.value == 0 || datum.value == 320 || datum.value == 500 ? '' + datum.value : ''", "labelColor": {"condition": {"test": "datum.value == 320", "value": "#FF0000"}, "value": "#000000"}, "tickOpacity": {"condition": {"test": "datum.value == 320", "value": 0}, "value": 1}, "title": ["Mean effective stress", "σ′ₘ (kPa)"], "titlePadding": 8}}, "order": {"value": null}}},
{"data": {"name": "c_o_m"}, "mark": {"type": "line", "clip": true, "strokeWidth": 3.5, "color": "#0000FF"}, "encoding": {"x": {"field": "x", "type": "quantitative", "axis": null}, "y": {"field": "y", "type": "quantitative", "axis": null}, "order": {"value": null}}},
{"data": {"name": "c_e_m"}, "mark": {"type": "line", "clip": true, "strokeWidth": 2.8, "color": "#F8834C"}, "encoding": {"x": {"field": "x", "type": "quantitative", "axis": null}, "y": {"field": "y", "type": "quantitative", "axis": null}, "order": {"value": null}}}
]}
],
"spacing": 12,
"bounds": "flush",
"resolve": {"scale": {"color": "independent"}, "legend": {"color": "independent"}},
"title": {"text": "(c) 7000 Gal", "orient": "bottom", "anchor": "middle", "dx": 4, "offset": 9}
}
],
"spacing": 68,
"resolve": {"scale": {"color": "independent"}, "legend": {"color": "independent"}}
}
],
"spacing": 80,
"resolve": {"scale": {"color": "independent"}, "legend": {"color": "independent"}},
"config": {
"view": {"stroke": "#000000", "strokeWidth": 1.5},
"axis": {"grid": false, "domain": false, "tickColor": "#000000", "tickWidth": 1.2, "tickSize": -5, "labelFont": "Liberation Serif, Times New Roman, serif", "labelFontSize": 21, "labelColor": "#000000", "labelPadding": 4, "labelFlush": false, "labelOverlap": false, "labelBound": false, "titleFont": "Liberation Serif, Times New Roman, serif", "titleFontSize": 21, "titleFontWeight": "normal", "titleColor": "#000000", "titleLineHeight": 24, "titlePadding": 3},
"legend": {"labelFont": "Liberation Serif, Times New Roman, serif", "labelFontSize": 20, "labelColor": "#000000", "labelLimit": 400, "symbolType": "M-2,0H2", "symbolSize": 400, "symbolStrokeWidth": 2, "symbolOffset": 12, "rowPadding": 0, "labelOffset": 13, "padding": 4, "strokeColor": "#808080", "fillColor": "#FFFFFF"},
"title": {"font": "Liberation Serif, Times New Roman, serif", "fontSize": 21, "fontWeight": "normal", "color": "#000000"}
}
}
